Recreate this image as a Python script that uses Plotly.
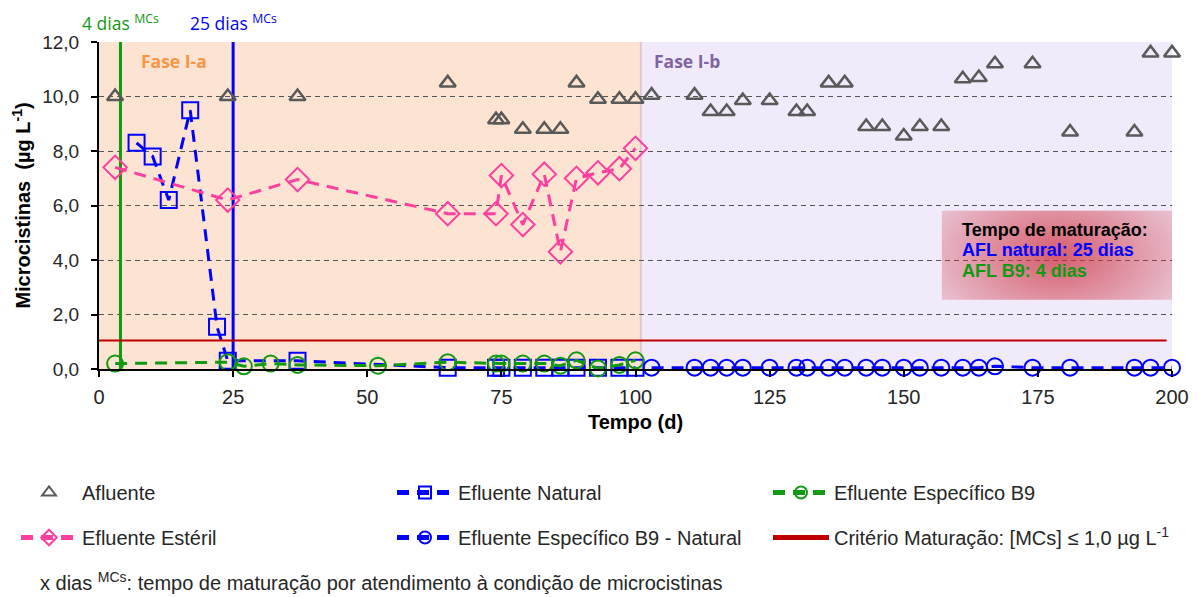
import math
import zlib
import struct
import base64
import plotly.graph_objects as go

# ---------------- data ----------------
dias_afl = [3, 24, 37, 65, 74, 75, 79, 83, 86, 89, 93, 97, 100, 103, 111, 114, 117, 120, 125, 130,
            132, 136, 139, 143, 146, 150, 153, 157, 161, 164, 167, 174, 181, 193, 196, 200]
afluente = [10.0, 10.0, 10.0, 10.5, 9.15, 9.15, 8.8, 8.8, 8.8, 10.5, 9.9, 9.9, 9.9, 10.05, 10.05, 9.45, 9.45, 9.85, 9.85, 9.45,
            9.45, 10.5, 10.5, 8.9, 8.9, 8.55, 8.9, 8.9, 10.65, 10.7, 11.2, 11.2, 8.7, 8.7, 11.6, 11.6]

dias_nat = [7, 10, 13, 17, 22, 24, 37, 65, 74, 75, 79, 83, 86, 89, 93, 97, 100]
natural = [8.3, 7.8, 6.2, 9.5, 1.55, 0.3, 0.3, 0.05, 0.05, 0.05, 0.05, 0.05, 0.05, 0.05, 0.05, 0.05, 0.05]

dias_est = [3, 24, 37, 65, 74, 75, 79, 83, 86, 89, 93, 97, 100]
esteril = [7.4, 6.2, 6.95, 5.7, 5.7, 7.1, 5.3, 7.15, 4.3, 7.0, 7.2, 7.35, 8.1]

dias_b9 = [3, 24, 27, 32, 37, 52, 65, 74, 75, 79, 83, 86, 89, 93, 97, 100]
b9 = [0.2, 0.25, 0.1, 0.2, 0.15, 0.12, 0.25, 0.2, 0.2, 0.2, 0.2, 0.12, 0.32, 0.02, 0.15, 0.32]

dias_b9n = [103, 111, 114, 117, 120, 125, 130, 132, 136, 139, 143, 146, 150, 153, 157, 161, 164,
            167, 174, 181, 193, 196, 200]
b9_nat = [0.05, 0.05, 0.05, 0.05, 0.05, 0.05, 0.05, 0.05, 0.05, 0.05, 0.05, 0.05, 0.05, 0.05, 0.05, 0.05, 0.05,
          0.1, 0.05, 0.05, 0.05, 0.05, 0.05]

criterio_x = [0, 199]
criterio_y = [1.05, 1.05]

fase_a = [0, 101]
fase_b = [101, 200]
mat_b9 = 4
mat_nat = 25

x_ticks = [0, 25, 50, 75, 100, 125, 150, 175, 200]
y_ticks = [0, 2, 4, 6, 8, 10, 12]
y_ticklabels = ["0,0", "2,0", "4,0", "6,0", "8,0", "10,0", "12,0"]

# ---------------- styles ----------------
FONT = "Liberation Sans, Arial, sans-serif"
FONT2 = "Open Sans, sans-serif"
BLUE = "#0000FF"
GREEN = "#119911"
PINK = "#FF3F9F"
GRAY = "#595959"
RED = "#C00000"
DASH = "12px,8px"


def make_png(w, h, fn):
    rows = []
    for yy in range(h):
        row = bytearray(b"\x00")
        for xx in range(w):
            row.extend(fn(xx, yy))
        rows.append(bytes(row))
    raw = b"".join(rows)

    def chunk(t, d):
        c = struct.pack(">I", len(d)) + t + d
        return c + struct.pack(">I", zlib.crc32(t + d) & 0xffffffff)

    return (b"\x89PNG\r\n\x1a\n" + chunk(b"IHDR", struct.pack(">IIBBBBB", w, h, 8, 6, 0, 0, 0))
            + chunk(b"IDAT", zlib.compress(raw)) + chunk(b"IEND", b""))


GW, GH = 96, 48


def grad_px(xx, yy):
    u = (xx + 0.5) / GW * 2 - 1
    v = (yy + 0.5) / GH * 2 - 1
    d = min(1.0, math.sqrt(u * u + 0.4 * v * v) / math.sqrt(1.4))
    a = 0.22 + 0.55 * (1 - d) ** 1.0
    return (205, 50, 65, int(round(a * 255)))


grad_src = "data:image/png;base64," + base64.b64encode(make_png(GW, GH, grad_px)).decode()

fig = go.Figure()

fig.add_trace(go.Scatter(x=dias_afl, y=afluente, mode="markers", name="Afluente",
                         marker=dict(symbol="triangle-up-open", size=14, color=GRAY, line=dict(width=2.5, color=GRAY)),
                         cliponaxis=False, legend="legend", legendgroup="g1"))
fig.add_trace(go.Scatter(x=dias_nat, y=natural, mode="lines+markers", name="Efluente Natural",
                         line=dict(color=BLUE, width=3, dash=DASH),
                         marker=dict(symbol="square-open", size=16, color=BLUE, line=dict(width=2, color=BLUE)),
                         cliponaxis=False, legend="legend2", legendgroup="g2"))
fig.add_trace(go.Scatter(x=dias_b9, y=b9, mode="lines+markers", name="Efluente Específico B9",
                         line=dict(color=GREEN, width=3, dash=DASH),
                         marker=dict(symbol="circle-open", size=16, color=GREEN, line=dict(width=2, color=GREEN)),
                         cliponaxis=False, legend="legend3", legendgroup="g3"))
fig.add_trace(go.Scatter(x=dias_est, y=esteril, mode="lines+markers", name="Efluente Estéril",
                         line=dict(color=PINK, width=3, dash=DASH),
                         marker=dict(symbol="diamond-open", size=18, color=PINK, line=dict(width=2, color=PINK)),
                         cliponaxis=False, legend="legend", legendgroup="g4"))
fig.add_trace(go.Scatter(x=dias_b9n, y=b9_nat, mode="lines+markers", name="Efluente Específico B9 - Natural",
                         line=dict(color=BLUE, width=3, dash=DASH),
                         marker=dict(symbol="circle-open", size=16, color=BLUE, line=dict(width=2, color=BLUE)),
                         cliponaxis=False, legend="legend2", legendgroup="g5"))
fig.add_trace(go.Scatter(x=criterio_x, y=criterio_y, mode="lines",
                         name="Critério Maturação: [MCs] ≤ 1,0 µg L<sup>-1</sup>",
                         line=dict(color=RED, width=2), legend="legend3", legendgroup="g6"))

shapes = [
    dict(type="rect", xref="x", yref="y", x0=fase_a[0], x1=fase_a[1], y0=0, y1=12,
         fillcolor="#FDE4D2", line=dict(width=0), layer="below"),
    dict(type="rect", xref="x", yref="y", x0=fase_b[0], x1=fase_b[1], y0=0, y1=12,
         fillcolor="#F1EAFA", line=dict(width=0), layer="below"),
    dict(type="line", xref="x", yref="y", x0=fase_a[1], x1=fase_a[1], y0=0, y1=12,
         line=dict(color="rgba(225,190,200,0.8)", width=2), layer="below"),
    dict(type="line", xref="x", yref="y", x0=mat_b9, x1=mat_b9, y0=0, y1=12,
         line=dict(color=GREEN, width=3), layer="between"),
    dict(type="line", xref="x", yref="y", x0=mat_nat, x1=mat_nat, y0=0, y1=12,
         line=dict(color=BLUE, width=3), layer="between"),
]

bx0, bx1, by0, by1 = 157.1, 200, 2.54, 5.81
images = [dict(source=grad_src, xref="x", yref="y", x=bx0, y=by1, sizex=bx1 - bx0, sizey=by1 - by0,
               sizing="stretch", xanchor="left", yanchor="top", layer="above", opacity=1)]

annotations = [
    dict(x=mat_b9, y=12, xref="x", yref="y", text="4 dias <sup>MCs</sup>", showarrow=False,
         xanchor="center", yanchor="bottom", yshift=5, font=dict(family=FONT2, size=17.5, color=GREEN)),
    dict(x=mat_nat, y=12, xref="x", yref="y", text="25 dias <sup>MCs</sup>", showarrow=False,
         xanchor="center", yanchor="bottom", yshift=5, font=dict(family=FONT2, size=17.5, color=BLUE)),
    dict(x=7.5, y=11.3, xref="x", yref="y", text="<b>Fase I-a</b>", showarrow=False, xanchor="left",
         font=dict(family=FONT2, size=17.5, color="#F79646")),
    dict(x=103, y=11.3, xref="x", yref="y", text="<b>Fase I-b</b>", showarrow=False, xanchor="left",
         font=dict(family=FONT2, size=17.5, color="#8064A2")),
    dict(x=160.5, y=5.1, xref="x", yref="y", text="<b>Tempo de maturação:</b>", showarrow=False, xanchor="left",
         font=dict(family=FONT, size=18, color="black")),
    dict(x=160.5, y=4.35, xref="x", yref="y", text="<b>AFL natural: 25 dias</b>", showarrow=False, xanchor="left",
         font=dict(family=FONT, size=18, color=BLUE)),
    dict(x=160.5, y=3.6, xref="x", yref="y", text="<b>AFL B9: 4 dias</b>", showarrow=False, xanchor="left",
         font=dict(family=FONT, size=18, color=GREEN)),
    dict(x=(38 - 99) / 1073, y=(369 - 581) / 327, xref="paper", yref="paper",
         text="x dias <sup>MCs</sup>: tempo de maturação por atendimento à condição de microcistinas",
         showarrow=False, xanchor="left", yanchor="middle",
         font=dict(family=FONT, size=20, color="#262626")),
]

legend_common = dict(orientation="v", xanchor="left", yanchor="top", itemwidth=56, itemsizing="constant",
                     tracegroupgap=16, font=dict(family=FONT, size=20, color="#262626"),
                     bgcolor="rgba(0,0,0,0)", traceorder="grouped")
LEG_Y = -0.318

fig.update_layout(
    width=1201, height=597,
    margin=dict(l=99, r=29, t=42, b=228),
    paper_bgcolor="white", plot_bgcolor="white",
    font=dict(family=FONT, size=19, color="#262626"),
    shapes=shapes, annotations=annotations, images=images,
    legend=dict(**legend_common, x=(16 - 99) / 1073, y=LEG_Y),
    legend2=dict(**legend_common, x=(392 - 99) / 1073, y=LEG_Y),
    legend3=dict(**legend_common, x=(768 - 99) / 1073, y=LEG_Y),
    xaxis=dict(range=[0, 200], tickvals=x_ticks, showgrid=False, zeroline=False,
               showline=True, linecolor="black", linewidth=2, ticks="outside", ticklen=6, tickwidth=2,
               tickcolor="black", tickfont=dict(size=20, color="#262626"), ticklabelstandoff=3,
               title=dict(text="<b>Tempo (d)</b>", font=dict(size=20, color="black"), standoff=8)),
    yaxis=dict(range=[0, 12], tickvals=y_ticks, ticktext=y_ticklabels, showgrid=True, gridcolor="#555555",
               griddash="5px,4px", gridwidth=1, zeroline=False,
               showline=True, linecolor="black", linewidth=2, ticks="outside", ticklen=6, tickwidth=2,
               tickcolor="black", tickfont=dict(size=19, color="#262626"), ticklabelstandoff=8,
               title=dict(text="<b>Microcistinas  (µg L<sup>-1</sup>)</b>", font=dict(size=20, color="black"),
                          standoff=6)),
)

fig.write_html("out.html")
